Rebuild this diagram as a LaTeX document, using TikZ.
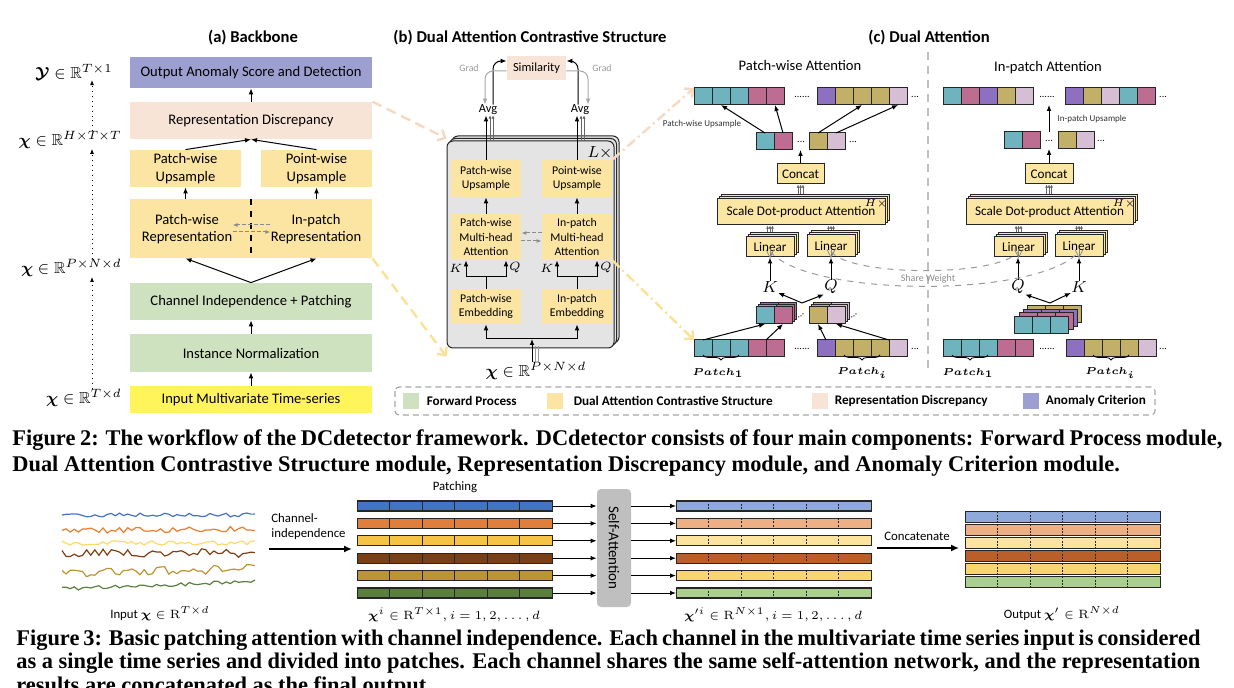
\documentclass[tikz,border=0pt]{standalone}
\usepackage{amsmath}
\usepackage{amssymb}
\usepackage[no-math]{fontspec}
\setmainfont{Carlito}
\newfontfamily\capfont{Liberation Serif}
\usetikzlibrary{arrows.meta,fit,positioning,decorations.pathreplacing}

\definecolor{anomc}{HTML}{9D9FD0}
\definecolor{reprc}{HTML}{F7E4D6}
\definecolor{dacsc}{HTML}{FCE5A3}
\definecolor{fwdc}{HTML}{CFE2BF}
\definecolor{inpc}{HTML}{FFF45A}
\definecolor{stkc}{HTML}{E4E4E4}
\definecolor{cboxc}{HTML}{FBE6A4}
\definecolor{tl}{HTML}{6FB3BE}
\definecolor{pk}{HTML}{BD6C92}
\definecolor{pu}{HTML}{8E70C1}
\definecolor{ol}{HTML}{C2AF68}
\definecolor{lv}{HTML}{D6BED4}
\definecolor{pline}{HTML}{F7D9C2}
\definecolor{yline}{HTML}{FBE196}
\definecolor{sblue}{HTML}{4472C4}
\definecolor{sorange}{HTML}{E07E3C}
\definecolor{syellow}{HTML}{F6C445}
\definecolor{sbrown}{HTML}{7C3F14}
\definecolor{sgold}{HTML}{BB9434}
\definecolor{sgreen}{HTML}{5A7F3F}
\definecolor{lblue}{HTML}{8FA9DB}
\definecolor{lorange}{HTML}{EDB084}
\definecolor{lyellow}{HTML}{FCE49E}
\definecolor{lbrown}{HTML}{BA5E2A}
\definecolor{lgold}{HTML}{F9D56F}
\definecolor{lgreen}{HTML}{AACF8F}
\definecolor{tsyellow}{HTML}{FFD966}
\definecolor{tsorange}{HTML}{ED7D31}

\newcommand\fsz[2]{\fontsize{#1}{#2}\selectfont}
% row of square cells, named <name>-1, <name>-2, ...
\newcommand\cellrow[4]{%
  \foreach \cc [count=\ci] in {#4}
    \node[cellbox, fill=\cc, anchor=north west] (#1-\ci) at ({#2+18*(\ci-1)},#3) {};}

\tikzset{
  arr/.style={-{Latex[length=3pt,width=2.4pt]}, line width=0.5pt},
  garr/.style={arr, black!35},
  gdarr/.style={-{Latex[length=2.5pt,width=2pt]}, black!45, dashed, line width=0.5pt, dash pattern=on 2pt off 1pt},
  tarr/.style={-{Latex[length=1.6pt,width=1.6pt]}, black!60, line width=0.35pt},
  dotarr/.style={-{Latex[length=2.5pt,width=2pt]}, line width=0.45pt, dotted},
  bb/.style={inner sep=0pt},
  bbt/.style={inner sep=0pt, align=center, font=\fsz{7.3}{8.7}},
  sb/.style={inner sep=0pt, fill=dacsc},
  sbt/.style={inner sep=0pt, align=center, font=\fsz{5.9}{7.3}},
  cb/.style={draw=black!85, fill=cboxc, line width=0.5pt, inner sep=0pt},
  cbt/.style={inner sep=0pt, font=\fsz{6.6}{8}},
  stkbox/.style={draw=black!85, fill=stkc, line width=0.5pt, rounded corners=3pt, inner sep=0pt},
  ttl/.style={inner sep=0pt, font=\bfseries\fsz{8.3}{10}},
  sub/.style={inner sep=0pt, font=\fsz{7.3}{8.7}},
  ml/.style={inner sep=0pt, font=\fsz{8}{9}},
  kq/.style={inner sep=0pt, font=\fsz{6}{7}},
  kqb/.style={inner sep=0pt, font=\fsz{8}{9}},
  gradl/.style={inner sep=0pt, text=black!40, font=\fsz{4.9}{6}},
  tinyl/.style={inner sep=0pt, text=black!80, font=\fsz{4.5}{5.5}},
  ell/.style={inner sep=0pt, font=\fsz{5}{6}},
  cellbox/.style={draw=black!85, line width=0.5pt, minimum width=9pt, minimum height=8.5pt, inner sep=0pt, outer sep=0pt},
  brc/.style={decorate, decoration={brace, mirror, amplitude=2.5pt}, line width=0.4pt},
  plab/.style={inner sep=0pt, font=\fsz{5.5}{6.5}},
  share/.style={black!40, dashed, line width=0.5pt},
  pdash/.style={pline, line width=1.2pt, dash pattern=on 5pt off 3pt, -{Straight Barb[length=3pt,width=6pt]}},
  ydash/.style={yline, line width=1.2pt, dash pattern=on 5pt off 3pt, -{Straight Barb[length=3pt,width=6pt]}},
  pdd/.style={pline, line width=1.2pt, dash pattern=on 5pt off 2pt on 1pt off 2pt, -{Straight Barb[length=3pt,width=6pt]}},
  ydd/.style={yline, line width=1.2pt, dash pattern=on 5pt off 2pt on 1pt off 2pt, -{Straight Barb[length=3pt,width=6pt]}},
  vsep/.style={black!25, line width=0.6pt, dash pattern=on 4pt off 3pt},
  legbox/.style={black!35, line width=0.6pt, dash pattern=on 3pt off 2pt, rounded corners=2pt},
  lsq/.style={minimum width=8pt, minimum height=8pt, inner sep=0pt},
  lgt/.style={inner sep=0pt, font=\bfseries\fsz{6.6}{8}},
  capt/.style={inner sep=0pt, anchor=west, font=\capfont\bfseries\fsz{11.2}{12}},
  ftx/.style={inner sep=0pt, font=\fsz{6.4}{7.8}},
  pbar/.style={draw=black!85, line width=0.6pt, minimum width=97.5pt, minimum height=5pt, inner sep=0pt, anchor=west},
  obar/.style={pbar, minimum height=5.25pt},
  bardiv/.style={black!85, line width=0.5pt},
  bardash/.style={black!85, line width=0.4pt, dash pattern=on 1pt off 0.7pt},
  sabox/.style={fill=black!25, rounded corners=2pt, inner sep=0pt},
  tsl/.style={line width=0.6pt},
  bigarr/.style={-{Latex[length=4pt,width=3.5pt]}, line width=0.9pt}
}

\begin{document}
\begin{tikzpicture}[x=0.5pt,y=0.5pt,yscale=-1]
\useasboundingbox (0,0) rectangle (1234,688);

%%%%%%%%%% (a) Backbone
% Text Node
\node[ttl] (ta) at (253,38) {(a) Backbone};
%Shape: Rectangle
\node[bb, fill=anomc, fit={(130,57) (372,88)}, label={[bbt]center:Output Anomaly Score and Detection}] (outp) {};
\node[bb, fill=reprc, fit={(130,102) (372,139)}, label={[bbt]center:Representation Discrepancy}] (rdisc) {};
\node[bb, fill=dacsc, fit={(130,150) (241,187)}, label={[bbt]center:{Patch-wise\\Upsample}}] (pwup) {};
\node[bb, fill=dacsc, fit={(261,150) (372,187)}, label={[bbt]center:{Point-wise\\Upsample}}] (ptup) {};
\node[bb, fill=dacsc, fit={(130,199) (372,258)}] (reprbox) {};
\node[bbt] (pwrep) at (187,229) {Patch-wise\\Representation};
\node[bbt] (iprep) at (316,229) {In-patch\\Representation};
\node[bb, fill=fwdc, fit={(130,283) (372,320)}, label={[bbt]center:Channel Independence + Patching}] (cip) {};
\node[bb, fill=fwdc, fit={(130,334) (372,372)}, label={[bbt]center:Instance Normalization}] (inorm) {};
\node[bb, fill=inpc, fit={(130,386) (372,413)}, label={[bbt]center:Input Multivariate Time-series}] (inp) {};
%Straight Lines
\draw[dashed, line width=0.6pt] (reprbox.north) -- (reprbox.south);
\draw[gdarr] ([yshift=1.5pt]pwrep.east) -- ([yshift=1.5pt]iprep.west);
\draw[gdarr] ([yshift=-2pt]iprep.west) -- ([yshift=-2pt]pwrep.east);
\draw[arr] (rdisc.north) -- (outp.south);
\draw[arr] (pwup.north) -- (rdisc.south);
\draw[arr] (ptup.north) -- (rdisc.south);
\draw[arr] (pwup.south |- reprbox.north) -- (pwup.south);
\draw[arr] (ptup.south |- reprbox.north) -- (ptup.south);
\draw[arr] (cip.north) -- (pwup.south |- reprbox.south);
\draw[arr] (cip.north) -- (ptup.south |- reprbox.south);
\draw[arr] (inorm.north) -- (cip.south);
\draw[arr] (inp.north) -- (inorm.south);
% Text Node
\node[ml, anchor=east] (ly) at (113,72) {$\boldsymbol{\mathcal{Y}}\in\mathbb{R}^{T\times 1}$};
\node[ml, anchor=east] (lh) at (122,140) {$\boldsymbol{\chi}\in\mathbb{R}^{H\times T\times T}$};
\node[ml, anchor=east] (lp) at (122,268) {$\boldsymbol{\chi}\in\mathbb{R}^{P\times N\times d}$};
\node[ml, anchor=east] (lt) at (122,398) {$\boldsymbol{\chi}\in\mathbb{R}^{T\times d}$};
\coordinate (vx) at (92,0);
\draw[dotarr] (lt.north -| vx) -- (lp.south -| vx);
\draw[dotarr] (lp.north -| vx) -- (lh.south -| vx);
\draw[dotarr] (lh.north -| vx) -- (ly.south -| vx);

%%%%%%%%%% (b) Dual Attention Contrastive Structure
\node[ttl] (tb) at (530,38) {(b) Dual Attention Contrastive Structure};
%Shape: Stacked rectangles
\foreach \d in {5,2.5} \draw[stkbox, shift={(\d,-\d)}] (447,141) rectangle (614,348);
\node[stkbox, fit={(447,141) (614,348)}] (stk) {};
\node[kqb] (lx) at (600,153) {$L\times$};
\node[sb, fit={(451,160) (521,197)}, label={[sbt]center:{Patch-wise\\Upsample}}] (pwu) {};
\node[sb, fit={(542,160) (612,197)}, label={[sbt]center:{Point-wise\\Upsample}}] (ptu) {};
\node[sb, fit={(451,214) (521,260)}, label={[sbt]center:{Patch-wise\\Multi-head\\Attention}}] (pwa) {};
\node[sb, fit={(542,214) (612,260)}, label={[sbt]center:{In-patch\\Multi-head\\Attention}}] (ipa) {};
\node[sb, fit={(451,289) (521,324)}, label={[sbt]center:{Patch-wise\\Embedding}}] (pwe) {};
\node[sb, fit={(542,289) (612,324)}, label={[sbt]center:{In-patch\\Embedding}}] (ipe) {};
\node[ml] (xin) at (536,371) {$\boldsymbol{\chi}\in\mathbb{R}^{P\times N\times d}$};
\node[inner sep=0pt, font=\fsz{6.2}{7}] (avg1) at (488,110) {Avg};
\node[inner sep=0pt, font=\fsz{6.2}{7}] (avg2) at (580,110) {Avg};
\node[inner sep=0pt, fill=reprc, fit={(507,56) (566,80)}, label={[inner sep=0pt, font=\fsz{6.2}{7}]center:Similarity}] (sim) {};
\node[gradl] (g1) at (469,68) {Grad};
\node[gradl] (g2) at (602,68) {Grad};
%Straight Lines
\coordinate (bsplit) at (532,339);
\draw[arr] (xin.north -| bsplit) -- (bsplit);
\draw[black!40, line width=0.4pt] ([xshift=1.5pt]xin.north -| bsplit) -- ++(0,-16);
\draw[black!40, line width=0.4pt] ([xshift=3pt]xin.north -| bsplit) -- ++(0,-16);
\draw[arr] (bsplit) -| (pwe.south);
\draw[arr] (bsplit) -| (ipe.south);
\coordinate (ka) at (466,277);
\coordinate (qa) at (506,277);
\coordinate (kb) at (557,277);
\coordinate (qb) at (597,277);
\draw[line width=0.5pt] (pwe.north) -- (pwe.north |- ka);
\draw[line width=0.5pt] (ka) -- (qa);
\draw[arr] (ka) -- (ka |- pwa.south);
\draw[arr] (qa) -- (qa |- pwa.south);
\draw[line width=0.5pt] (ipe.north) -- (ipe.north |- kb);
\draw[line width=0.5pt] (kb) -- (qb);
\draw[arr] (kb) -- (kb |- ipa.south);
\draw[arr] (qb) -- (qb |- ipa.south);
\node[kq] at (456,268) {$K$};
\node[kq] at (515,268) {$Q$};
\node[kq] at (547,268) {$K$};
\node[kq] at (606,268) {$Q$};
\draw[gdarr] ([yshift=2pt]pwa.east) -- ([yshift=2pt]ipa.west);
\draw[gdarr] ([yshift=-2pt]ipa.west) -- ([yshift=-2pt]pwa.east);
\draw[arr] (pwa.north) -- (pwu.south);
\draw[arr] (ipa.north) -- (ptu.south);
\draw[arr] (pwu.north) -- (pwu.north |- avg1.south);
\draw[arr] (ptu.north) -- (ptu.north |- avg2.south);
\foreach \s in {2,3.5} {
  \draw[tarr] ([xshift=\s*1pt]pwu.north |- stk.north) -- ([xshift=\s*1pt]pwu.north |- avg1.south);
  \draw[tarr] ([xshift=\s*1pt]ptu.north |- stk.north) -- ([xshift=\s*1pt]ptu.north |- avg2.south);
}
\draw[arr, rounded corners=4pt] ([xshift=2.5pt]avg1.north) |- ([yshift=-3.5pt]sim.west);
\draw[garr, rounded corners=4pt] ([yshift=1.5pt]sim.west) -| ([xshift=-1.5pt]avg1.north);
\draw[arr, rounded corners=4pt] ([xshift=-1pt]avg2.north) |- ([yshift=-3.5pt]sim.east);
\draw[garr, rounded corners=4pt] ([yshift=1.5pt]sim.east) -| ([xshift=4pt]avg2.north);
% links from (a) into (b)
\draw[pdash] (rdisc.north east) -- ([yshift=-1pt]stk.north west);
\draw[ydash] (reprbox.south east) -- ([yshift=4pt]stk.south west);

%%%%%%%%%% (c) Dual Attention
\node[ttl] (tc) at (929,38) {(c) Dual Attention};
\draw[vsep] (928,52) -- (928,372);
\node[sub] (tpw) at (800,65) {Patch-wise Attention};
\node[sub] (tip) at (1048,68) {In-patch Attention};

% patch-wise branch
\cellrow{pta}{694}{88}{tl,tl,tl,pk,pk}
\node[ell] at (802,97) {......};
\cellrow{ptb}{817}{88}{pu,ol,ol,ol,lv}
\node[ell] at (915,97) {...};
\cellrow{pma}{756}{133}{tl,pk}
\node[ell] at (801,142) {...};
\cellrow{pmb}{809}{133}{ol,lv}
\node[ell] at (853,142) {...};
\draw[arr] (pma-1.north) -- (pta-2.south);
\draw[arr] (pma-2.north) -- (pta-5.south);
\draw[arr] (pmb-1.north) -- (ptb-3.south);
\draw[arr] (pmb-2.north) -- (ptb-5.south);
\node[tinyl] at (702,124) {Patch-wise Upsample};
\node[cb, fit={(777,164) (824,184)}, label={[cbt]center:Concat}] (pcat) {};
\draw[arr] (pcat.north) -- (pcat.north |- pma-1.south);
\foreach \d in {4,2} \draw[cb, shift={(\d,-\d)}] (717,199) rectangle (885,225);
\node[cb, fit={(717,199) (885,225)}, label={[cbt]center:Scale Dot-product Attention}] (psd) {};
\node[inner sep=0pt, font=\fsz{4.5}{5}] at (876,204) {$H\times$};
\foreach \d in {4,2} {
  \draw[cb, shift={(\d,-\d)}] (746,237) rectangle (794,257);
  \draw[cb, shift={(\d,-\d)}] (807,235) rectangle (855,257);
}
\node[cb, fit={(746,237) (794,257)}, label={[cbt]center:Linear}] (plk) {};
\node[cb, fit={(807,235) (855,257)}, label={[cbt]center:Linear}] (plq) {};
\foreach \s in {-1,0,1} {
  \draw[tarr] ([xshift=\s*1.2pt, yshift=-2pt]pcat.south |- psd.north) -- ([xshift=\s*1.2pt]pcat.south);
  \draw[tarr] ([xshift=\s*1.2pt, yshift=-2pt]plk.north) -- ([xshift=\s*1.2pt]plk.north |- psd.south);
  \draw[tarr] ([xshift=\s*1.2pt, yshift=-2pt]plq.north) -- ([xshift=\s*1.2pt]plq.north |- psd.south);
  \draw[black!50, line width=0.35pt] ([xshift=\s*2pt, yshift=-4pt]plk.south) -- (plk.south);
  \draw[black!50, line width=0.35pt] ([xshift=\s*2pt, yshift=-4pt]plq.south) -- (plq.south);
}
\node[kqb] (pk1) at (770,287) {$K$};
\node[kqb] (pq1) at (831,287) {$Q$};
\draw[arr] (pk1.north) -- (pk1.north |- plk.south);
\draw[arr] (pq1.north) -- (pq1.north |- plq.south);
\begin{scope}[shift={(4,-4)}]
\cellrow{pqx}{756}{307}{pu,pk}
\cellrow{pqy}{809}{307}{ol,lv}
\end{scope}
\begin{scope}[shift={(2,-2)}]
\cellrow{pqz}{756}{307}{tl,pk}
\cellrow{pqw}{809}{307}{ol,lv}
\end{scope}
\cellrow{pqa}{756}{307}{tl,pk}
\cellrow{pqb}{809}{307}{ol,lv}
\node[ell, rotate=35] at (801,316) {...};
\node[ell, rotate=35] at (854,316) {...};
\coordinate (pfork) at (802,303);
\draw[arr] (pfork) -- (pk1.south east);
\draw[arr] (pfork) -- (pq1.south west);
\cellrow{pba}{694}{340}{tl,tl,tl,pk,pk}
\node[ell] at (802,349) {......};
\cellrow{pbb}{817}{340}{pu,ol,ol,ol,lv}
\node[ell] at (915,349) {...};
\draw[arr] (pba-1.north) -- (pqa-1.south);
\draw[arr] (pba-4.north east) -- (pqa-2.south);
\draw[arr] (pbb-1.north) -- (pqb-1.south);
\draw[arr] (pbb-4.north east) -- (pqb-2.south);
\draw[brc] ([yshift=-1pt]pba-1.south) -- ([yshift=-1pt]pba-3.south);
\draw[brc] ([yshift=-1pt]pbb-2.south) -- ([yshift=-1pt]pbb-4.south);
\node[plab] at (718,373) {$\boldsymbol{Patch_1}$};
\node[plab] at (862,373) {$\boldsymbol{Patch_i}$};
% links from (b) into (c)
\draw[pdd] (ptu.north east) -- (pta-1.north west);
\draw[ydd] (ipa.south east) -- (pba-1.north west);

% in-patch branch
\cellrow{ita}{943}{88}{tl,pk,pu,ol,lv}
\node[ell] at (1047,97) {......};
\cellrow{itb}{1065}{88}{pu,ol,lv,tl,pk}
\node[ell] at (1163,97) {...};
\cellrow{ima}{1004}{132}{tl,pk}
\node[ell] (imd) at (1049,141) {...};
\cellrow{imb}{1058}{132}{ol,lv}
\node[ell] at (1101,141) {...};
\draw[arr] (imd |- ima-1.north) -- (imd |- ita-1.south);
\node[tinyl] at (1092,119) {In-patch Upsample};
\node[cb, fit={(1025,164) (1073,184)}, label={[cbt]center:Concat}] (icat) {};
\draw[arr] (icat.north) -- (icat.north |- ima-1.south);
\foreach \d in {4,2} \draw[cb, shift={(\d,-\d)}] (966,199) rectangle (1133,225);
\node[cb, fit={(966,199) (1133,225)}, label={[cbt]center:Scale Dot-product Attention}] (isd) {};
\node[inner sep=0pt, font=\fsz{4.5}{5}] at (1124,204) {$H\times$};
\foreach \d in {4,2} {
  \draw[cb, shift={(\d,-\d)}] (994,237) rectangle (1043,257);
  \draw[cb, shift={(\d,-\d)}] (1055,235) rectangle (1103,257);
}
\node[cb, fit={(994,237) (1043,257)}, label={[cbt]center:Linear}] (ilq) {};
\node[cb, fit={(1055,235) (1103,257)}, label={[cbt]center:Linear}] (ilk) {};
\foreach \s in {-1,0,1} {
  \draw[tarr] ([xshift=\s*1.2pt, yshift=-2pt]icat.south |- isd.north) -- ([xshift=\s*1.2pt]icat.south);
  \draw[tarr] ([xshift=\s*1.2pt, yshift=-2pt]ilq.north) -- ([xshift=\s*1.2pt]ilq.north |- isd.south);
  \draw[tarr] ([xshift=\s*1.2pt, yshift=-2pt]ilk.north) -- ([xshift=\s*1.2pt]ilk.north |- isd.south);
  \draw[black!50, line width=0.35pt] ([xshift=\s*2pt, yshift=-4pt]ilq.south) -- (ilq.south);
  \draw[black!50, line width=0.35pt] ([xshift=\s*2pt, yshift=-4pt]ilk.south) -- (ilk.south);
}
\node[kqb] (iq1) at (1018,287) {$Q$};
\node[kqb] (ik1) at (1079,287) {$K$};
\draw[arr] (iq1.north) -- (iq1.north |- ilq.south);
\draw[arr] (ik1.north) -- (ik1.north |- ilk.south);
\begin{scope}[shift={(13,-11)}]
\cellrow{isd}{1014}{317}{ol,ol,ol}
\end{scope}
\begin{scope}[shift={(9,-7)}]
\cellrow{isc}{1014}{317}{pu,pu,pu}
\end{scope}
\begin{scope}[shift={(5,-4)}]
\cellrow{isb}{1014}{317}{pk,pk,pk}
\end{scope}
\cellrow{isa}{1014}{317}{tl,tl,tl}
\coordinate (ifork) at (1050,303);
\draw[arr] (ifork) -- (iq1.south east);
\draw[arr] (ifork) -- (ik1.south west);
\cellrow{iba}{943}{340}{tl,tl,tl,pk,pk}
\node[ell] at (1047,349) {......};
\cellrow{ibb}{1066}{340}{pu,ol,ol,ol,lv}
\node[ell] at (1163,349) {...};
\draw[brc] ([yshift=-1pt]iba-1.south) -- ([yshift=-1pt]iba-3.south);
\draw[brc] ([yshift=-1pt]ibb-2.south) -- ([yshift=-1pt]ibb-4.south);
\node[plab] at (968,373) {$\boldsymbol{Patch_1}$};
\node[plab] at (1110,373) {$\boldsymbol{Patch_i}$};

% shared weights between the two branches
\draw[share] ([yshift=-3pt]plk.south) .. controls (810,298) and (1040,298) .. ([yshift=-3pt]ilk.south);
\draw[share] ([yshift=-3pt]plq.south) .. controls (850,277) and (1000,277) .. ([yshift=-3pt]ilq.south);
\node[inner sep=0pt, text=black!45, font=\fsz{5}{6}] (sw) at (928,279) {Share Weight};

%%%%%%%%%% legend
\draw[legbox] (395,387) rectangle (1155,415);
\node[lsq, fill=fwdc] (lg1) at (411,401) {};
\node[lgt, right=3.5pt of lg1] (lt1) {Forward Process};
\node[lsq, fill=dacsc] (lg2) at (555,401) {};
\node[lgt, right=5pt of lg2] (lt2) {Dual Attention Contrastive Structure};
\node[lsq, fill=reprc] (lg3) at (820,401) {};
\node[lgt, right=3pt of lg3] (lt3) {Representation Discrepancy};
\node[lsq, fill=anomc] (lg4) at (1031,401) {};
\node[lgt, right=3pt of lg4] (lt4) {Anomaly Criterion};

%%%%%%%%%% captions
\node[capt] (cap2a) at (12,440) {\makebox[605pt][s]{Figure 2: The workflow of the DCdetector framework. DCdetector consists of four main components: Forward Process module,}};
\node[capt] (cap2b) at (12,466) {Dual Attention Contrastive Structure module, Representation Discrepancy module, and Anomaly Criterion module.};
\node[capt] (cap3a) at (16,640) {\makebox[592pt][s]{Figure 3: Basic patching attention with channel independence. Each channel in the multivariate time series input is considered}};
\node[capt] (cap3b) at (16,663) {\makebox[592pt][s]{as a single time series and divided into patches. Each channel shares the same self-attention network, and the representation}};
\node[capt] (cap3c) at (16,687) {results are concatenated as the final output.};

%%%%%%%%%% Figure 3: channel independence
\pgfmathsetseed{11}
\draw[tsl, sblue] plot[domain=62:255, samples=48] (\x, {515+2.2*rand});
\draw[tsl, tsorange] plot[domain=62:255, samples=48] (\x, {531-0.01*(\x-62)+2.8*rand});
\draw[tsl, tsyellow] plot[domain=62:255, samples=48] (\x, {543+2.2*rand});
\draw[tsl, sbrown] plot[domain=62:255, samples=48] (\x, {553+4.5*rand});
\draw[tsl, sgold] plot[domain=62:255, samples=48] (\x, {574-0.03*(\x-62)+4.5*rand});
\draw[tsl, sgreen] plot[domain=62:255, samples=48] (\x, {589-0.04*(\x-62)+1.8*rand});
\node[ftx] (lin) at (160,614) {Input $\boldsymbol{\chi}\in\mathrm{R}^{T\times d}$};
\node[ftx, anchor=north west, align=left] (chi) at (271,513) {Channel-\\independence};
\coordinate (ci1) at (269,549);
\coordinate (ci2) at (352,549);
\draw[bigarr] (ci1) -- (ci2);
\node[ftx] (ptch) at (455,487) {Patching};
\node[sabox, fit={(597,489) (631,607)}] (sa) {};
\node[rotate=-90, inner sep=0pt, font=\fsz{7.5}{9}] (sat) at (sa.center) {Self-Attention};
\foreach \cc [count=\r] in {sblue,sorange,syellow,sbrown,sgold,sgreen} {
  \node[pbar, fill=\cc] (lb\r) at (357,{506+17.4*(\r-1)}) {};
  \foreach \k in {1,...,5}
    \draw[bardiv] ([xshift=\k*16.25pt]lb\r.north west) -- ([xshift=\k*16.25pt]lb\r.south west);
  \draw[arr] (lb\r.east) -- (lb\r.east -| sa.west);
}
\foreach \cc [count=\r] in {lblue,lorange,lyellow,lbrown,lgold,lgreen} {
  \node[pbar, fill=\cc] (rb\r) at (676,{506+17.4*(\r-1)}) {};
  \foreach \k in {1,...,5}
    \draw[bardash] ([xshift=\k*16.25pt]rb\r.north west) -- ([xshift=\k*16.25pt]rb\r.south west);
  \draw[arr] (sa.east |- rb\r.west) -- (rb\r.west);
}
\node[ftx] (lpt) at (454,615) {$\boldsymbol{\chi}^{i}\in\mathrm{R}^{T\times 1}, i=1,2,\ldots,d$};
\node[ftx] (lsa) at (773,615) {$\boldsymbol{\chi}'^{i}\in\mathrm{R}^{N\times 1}, i=1,2,\ldots,d$};
\node[ftx] (cct) at (917,536) {Concatenate};
\coordinate (cc1) at (877,548);
\coordinate (cc2) at (959,548);
\draw[bigarr] (cc1) -- (cc2);
\foreach \cc [count=\r] in {lblue,lorange,lyellow,lbrown,lgold,lgreen} {
  \node[obar, fill=\cc] (ob\r) at (965,{517+13*(\r-1)}) {};
  \foreach \k in {1,...,5}
    \draw[bardash] ([xshift=\k*16.25pt]ob\r.north west) -- ([xshift=\k*16.25pt]ob\r.south west);
}
\node[ftx] (lout) at (1062,614) {Output $\boldsymbol{\chi}'\in\mathrm{R}^{N\times d}$};

\end{tikzpicture}
\end{document}
